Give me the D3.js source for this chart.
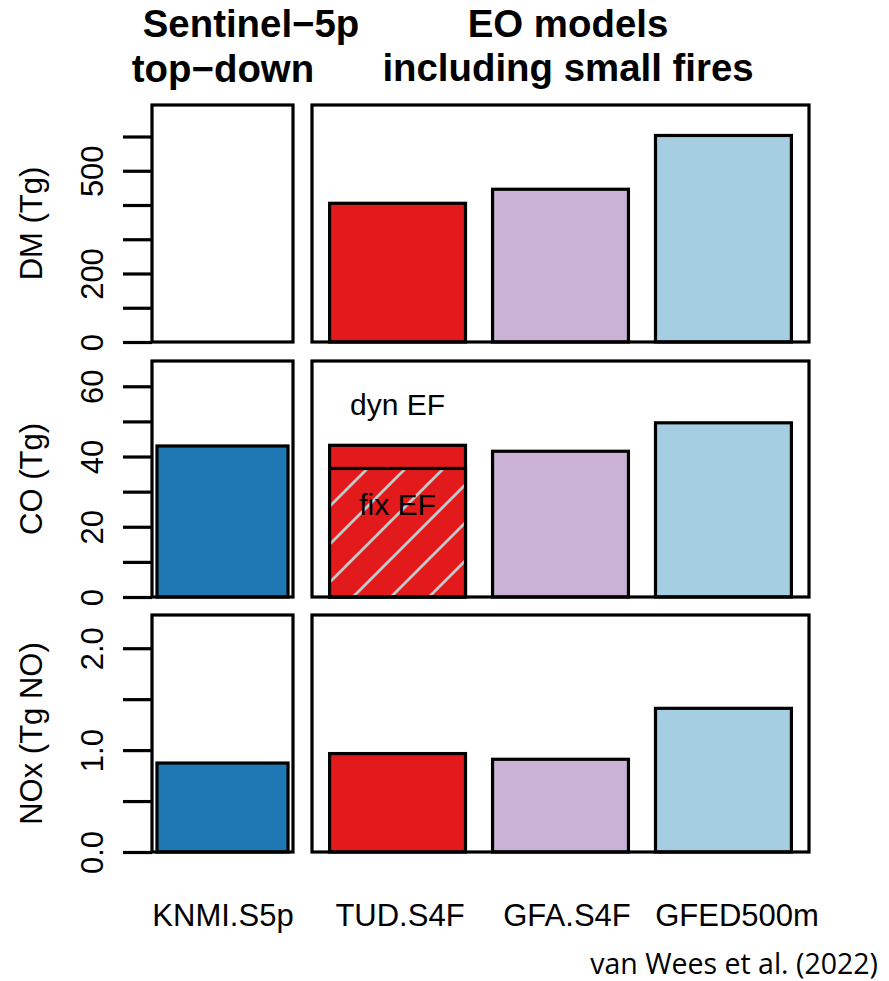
<!DOCTYPE html>
<html>
<head>
<meta charset="utf-8">
<script src="https://cdn.jsdelivr.net/npm/d3@7"></script>
<style>
  body { margin: 0; background: #fff; }
  svg { display: block; }
  text { font-family: "Liberation Sans", Arial, sans-serif; fill: #000; }
</style>
</head>
<body>
<div id="chart"></div>
<script>
// ---------------- data ----------------
const categories = ["KNMI.S5p", "TUD.S4F", "GFA.S4F", "GFED500m"];
const leftCategories = ["KNMI.S5p"];
const rightCategories = ["TUD.S4F", "GFA.S4F", "GFED500m"];
const barColors = ["#1f78b4", "#e31a1c", "#cab2d6", "#a6cee3"];

const dmValues  = [null, 405, 446, 603];
const coValues  = [43.0, 43.2, 41.5, 49.6];
const coFixEF   = [null, 36.6, null, null];
const noxValues = [0.873, 0.966, 0.91, 1.41];

const rowTitles = ["DM (Tg)", "CO (Tg)", "NOx (Tg NO)"];
const rowMax = [692, 67.2, 2.326];
const dmTicks  = [0, 100, 200, 300, 400, 500, 600];
const dmLabels = [0, 200, 500];
const coTicks  = [0, 10, 20, 30, 40, 50, 60];
const coLabels = [0, 20, 40, 60];
const noxTicks  = [0, 0.5, 1, 1.5, 2];
const noxLabels = [0, 1, 2];

const groupTitleLeft = ["Sentinel\u22125p", "top\u2212down"];
const groupTitleRight = ["EO models", "including small fires"];
const credit = "van Wees et al. (2022)";

// ---------------- layout ----------------
const W = 889, H = 981;
const leftX = [152, 293], rightX = [312, 809];
const rowsY = [[105, 342], [361, 597], [615, 852]];
const labelX = [223, 400, 567, 737];
const FS = 31;
const BAR_SW = 3.2;

const svg = d3.select("#chart").append("svg").attr("width", W).attr("height", H);

// hatch pattern
const defs = svg.append("defs");
const pat = defs.append("pattern").attr("id", "hatch")
  .attr("patternUnits", "userSpaceOnUse").attr("width", 38).attr("height", 38)
  .attr("x", 0).attr("y", 0);
pat.append("rect").attr("width", 38).attr("height", 38).attr("fill", barColors[1]);
pat.append("path").attr("d", "M-4,42 L42,-4 M-10,10 L10,-10 M28,48 L48,28")
  .attr("stroke", "#c8c8c8").attr("stroke-width", 2.8).attr("fill", "none");

const xLeft = d3.scaleBand().domain(leftCategories).range(leftX)
  .paddingInner(0).paddingOuter(0.038);
const xRight = d3.scaleBand().domain(rightCategories).range(rightX)
  .paddingInner(0.166).paddingOuter(0.108);
const xOf = c => leftCategories.includes(c) ? xLeft : xRight;

const rows = [
  { values: dmValues,  ticks: dmTicks,  labels: dmLabels,  fmt: d3.format("d") },
  { values: coValues,  ticks: coTicks,  labels: coLabels,  fmt: d3.format("d") },
  { values: noxValues, ticks: noxTicks, labels: noxLabels, fmt: d3.format(".1f") }
];

rows.forEach((row, ri) => {
  const [y0, y1] = rowsY[ri];
  const y = d3.scaleLinear().domain([0, rowMax[ri]]).range([y1, y0]);
  const g = svg.append("g");

  // bars
  const data = categories.map((c, i) => ({ c, v: row.values[i], col: barColors[i], i }))
    .filter(d => d.v != null);
  g.selectAll("rect.bar").data(data).enter().append("rect")
    .attr("class", "bar")
    .attr("x", d => xOf(d.c)(d.c))
    .attr("width", d => xOf(d.c).bandwidth())
    .attr("y", d => y(d.v))
    .attr("height", d => y(0) - y(d.v))
    .attr("fill", d => d.col)
    .attr("stroke", "#000").attr("stroke-width", BAR_SW);

  if (ri === 1) {
    const hd = categories.map((c, i) => ({ c, v: coFixEF[i] })).filter(d => d.v != null);
    g.selectAll("rect.hatch").data(hd).enter().append("rect")
      .attr("class", "hatch")
      .attr("x", d => xOf(d.c)(d.c))
      .attr("width", d => xOf(d.c).bandwidth())
      .attr("y", d => y(d.v))
      .attr("height", d => y(0) - y(d.v))
      .attr("fill", "url(#hatch)")
      .attr("stroke", "#000").attr("stroke-width", BAR_SW);
    const tc = "TUD.S4F";
    const cx = xRight(tc) + xRight.bandwidth() / 2;
    g.append("text").attr("x", cx).attr("y", 415).attr("text-anchor", "middle")
      .attr("font-size", 30).text("dyn EF");
    g.append("text").attr("x", cx).attr("y", 515).attr("text-anchor", "middle")
      .attr("font-size", 30).text("fix EF");
  }

  // panel boxes
  [leftX, rightX].forEach(xr => {
    g.append("rect").attr("x", xr[0]).attr("y", y0)
      .attr("width", xr[1] - xr[0]).attr("height", y1 - y0)
      .attr("fill", "none").attr("stroke", "#000").attr("stroke-width", 3.2);
  });

  // y axis
  const ax = d3.axisLeft(y).tickValues(row.ticks).tickSize(29).tickSizeOuter(0)
    .tickFormat(d => row.labels.includes(d) ? row.fmt(d) : "");
  const axg = svg.append("g").attr("transform", `translate(${leftX[0]},0)`).call(ax);
  axg.select(".domain").remove();
  axg.selectAll(".tick line").attr("stroke", "#000").attr("stroke-width", 3.2);
  axg.selectAll(".tick text")
    .attr("transform", "rotate(-90)")
    .attr("x", 0).attr("y", -49).attr("dy", null)
    .attr("text-anchor", "middle")
    .attr("font-size", FS)
    .attr("font-family", "Liberation Sans, Arial, sans-serif")
    .attr("fill", "#000");

  // row title
  const cy = (y0 + y1) / 2;
  svg.append("text")
    .attr("transform", `translate(42,${cy}) rotate(-90)`)
    .attr("text-anchor", "middle").attr("font-size", FS)
    .text(rowTitles[ri]);
});

// category labels
categories.forEach((c, i) => {
  svg.append("text").attr("x", labelX[i]).attr("y", 926)
    .attr("text-anchor", "middle").attr("font-size", FS).text(c);
});

// group titles
const tLeft = [[251, 37], [223, 82]];
groupTitleLeft.forEach((t, i) => {
  svg.append("text").attr("x", tLeft[i][0]).attr("y", tLeft[i][1])
    .attr("text-anchor", "middle").attr("font-size", 38.4).attr("font-weight", "bold").text(t);
});
groupTitleRight.forEach((t, i) => {
  svg.append("text").attr("x", 568).attr("y", i === 0 ? 37 : 81)
    .attr("text-anchor", "middle").attr("font-size", 38.4).attr("font-weight", "bold").text(t);
});

// credit
svg.append("text").attr("x", 878).attr("y", 974).attr("text-anchor", "end")
  .style("font-family", "'Open Sans', 'Noto Sans', sans-serif")
  .attr("font-size", 28.5).text(credit);
</script>
</body>
</html>
